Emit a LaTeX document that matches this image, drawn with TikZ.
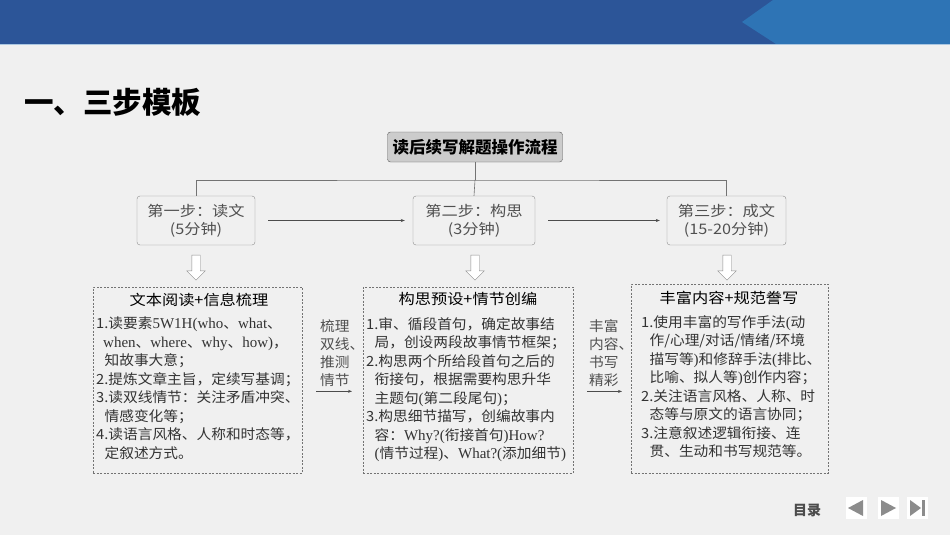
\documentclass[tikz,border=0pt]{standalone}
\usepackage{fontspec}
\setmainfont{Noto Sans CJK SC}
\newfontfamily\widefont[FakeStretch=1.12]{Noto Sans CJK SC}
\newfontfamily\bodyfont[FakeStretch=1.05]{Noto Sans CJK SC}
\newfontfamily\latinfont{Liberation Serif}
\newcommand\lat[1]{{\latinfont\fontsize{15}{18.5}\selectfont #1}}
\usetikzlibrary{shapes.arrows,arrows.meta}

\definecolor{barblue}{HTML}{2C5598}
\definecolor{tipblue}{HTML}{2E74B5}
\definecolor{marble}{HTML}{F0F0F0}
\definecolor{inkgray}{HTML}{505050}
\definecolor{navgray}{HTML}{8C8C8C}

\tikzset{
  flowbox/.style={draw=black!65, fill=black!20, rounded corners=3pt, minimum width=175pt, minimum height=30pt, font=\bfseries\fontsize{16.5}{18}\selectfont},
  stepbox/.style={draw=black!45, fill=marble, rounded corners=3pt, minimum height=49pt, align=center, text=inkgray, font=\widefont\fontsize{14.5}{18}\selectfont},
  downarrow/.style={single arrow, draw=black!45, fill=white, shape border rotate=270, minimum height=25pt, inner sep=4pt, single arrow head extend=5pt},
  dashbox/.style={draw=black!55, dash pattern=on 2pt off 1.5pt, minimum height=186pt},
  heading/.style={font=\widefont\fontsize{14.5}{18}\selectfont},
  body/.style={anchor=north west, inner sep=0pt, align=left, text=black!80, font=\bodyfont\fontsize{14}{18.5}\selectfont},
  sidelabel/.style={anchor=north west, inner sep=0pt, align=left, text=inkgray, font=\bodyfont\fontsize{14}{18}\selectfont},
  link/.style={draw=black!55, line width=0.6pt},
  flow/.style={draw=black!70, line width=0.6pt, -{Stealth[length=4pt,width=3pt]}},
  navbtn/.style={fill=white, minimum width=21pt, minimum height=22pt, inner sep=0pt}
}

\begin{document}
\begin{tikzpicture}[x=1pt,y=-1pt]
  \useasboundingbox (0,0) rectangle (950,535);
  \fill[marble] (0,0) rectangle (950,535);

  % top bar
  \fill[barblue] (0,0) rectangle (950,44);
  \fill[tipblue] (773,0) -- (950,0) -- (950,44) -- (776,44) -- (742,22) -- cycle;
  \draw[white!60!tipblue, line width=1pt] (0,44.5) -- (950,44.5);

  \node[anchor=west, inner sep=0pt, font=\bfseries\fontsize{29.5}{31}\selectfont] (title) at (24,102) {一、三步模板};

  % flow chart
  \node[flowbox] (flow) at (475,147) {读后续写解题操作流程};
  \node[stepbox, minimum width=118pt] (s1) at (196,220.5) {第一步：读文\\(5分钟)};
  \node[stepbox, minimum width=122pt] (s2) at (474,220.5) {第二步：构思\\(3分钟)};
  \node[stepbox, minimum width=119pt] (s3) at (726.5,220.5) {第三步：成文\\(15-20分钟)};

  \coordinate (j) at (475,180);
  \draw[link] (flow) -- (j);
  \draw[link] (s1.north) |- (j) -| (s3.north);
  \draw[link] (j) -- (s2.north);

  \draw[flow, shorten <=13pt, shorten >=8pt] (s1) -- (s2);
  \draw[flow, shorten <=13pt, shorten >=7pt] (s2) -- (s3);

  \node[downarrow] (d1) at (196,265.5) {};
  \node[downarrow] (d2) at (475,265.5) {};
  \node[downarrow] (d3) at (727,265.5) {};

  % content boxes
  \node[dashbox, minimum width=209pt] (c1) at (197.5,380) {};
  \node[dashbox, minimum width=210pt] (c2) at (468,380) {};
  \node[dashbox, minimum width=197pt, minimum height=189pt] (c3) at (729.5,378.5) {};

  \node[heading] (h1) at (199,300) {文本阅读+信息梳理};
  \node[heading] (h2) at (468,299) {构思预设+情节创编};
  \node[heading] (h3) at (729,298) {丰富内容+规范誊写};

  \node[body] (b1) at (96,317) {1.读要素\lat{5W1H(who}、\lat{what}、\\
    \hspace*{0.5em}\lat{when}、\lat{where}、\lat{why}、\lat{how)}，\\
    \hspace*{0.6em}知故事大意；\\
    2.提炼文章主旨，定续写基调；\\
    3.读双线情节：关注矛盾冲突、\\
    \hspace*{0.6em}情感变化等；\\
    4.读语言风格、人称和时态等，\\
    \hspace*{0.6em}定叙述方式。};
  \node[body] (b2) at (366,317) {1.审、循段首句，确定故事结\\
    \hspace*{0.6em}局，创设两段故事情节框架；\\
    2.构思两个所给段首句之后的\\
    \hspace*{0.6em}衔接句，根据需要构思升华\\
    \hspace*{0.6em}主题句\lat{(}第二段尾句\lat{)}；\\
    3.构思细节描写，创编故事内\\
    \hspace*{0.6em}容：\lat{Why?(}衔接首句\lat{)How?}\\
    \hspace*{0.6em}\lat{(}情节过程\lat{)}、\lat{What?(}添加细节\lat{)}};
  \node[body] (b3) at (641,315) {1.使用丰富的写作手法\lat{(}动\\
    \hspace*{0.6em}作/心理/对话/情绪/环境\\
    \hspace*{0.6em}描写等\lat{)}和修辞手法\lat{(}排比、\\
    \hspace*{0.6em}比喻、拟人等\lat{)}创作内容；\\
    2.关注语言风格、人称、时\\
    \hspace*{0.6em}态等与原文的语言协同；\\
    3.注意叙述逻辑衔接、连\\
    \hspace*{0.6em}贯、生动和书写规范等。};

  % side labels
  \node[sidelabel] (l1) at (320,319) {梳理\\双线、\\推测\\情节};
  \node[sidelabel] (l2) at (589,319) {丰富\\内容、\\书写\\精彩};
  \draw[flow] ([xshift=-4pt,yshift=-5pt]l1.south west) -- ([xshift=32pt,yshift=-5pt]l1.south west);
  \draw[flow] ([xshift=-2pt,yshift=-5pt]l2.south west) -- ([xshift=33pt,yshift=-5pt]l2.south west);

  % navigation
  \node[font=\bfseries\fontsize{14}{16}\selectfont, text=black!70] (toc) at (807,510) {目录};
  \node[navbtn] (prev) at (856,508) {};
  \node[navbtn] (next) at (888,508) {};
  \node[navbtn] (last) at (917,508) {};
  \fill[navgray] (prev) ++(-8,0) -- ++(15,-8) -- ++(0,16) -- cycle;
  \fill[navgray] (next) ++(8,0) -- ++(-15,-8) -- ++(0,16) -- cycle;
  \fill[navgray] (last) ++(4,0) -- ++(-11,-8) -- ++(0,16) -- cycle;
  \fill[navgray] (last) ++(5,-8) rectangle ++(3,16);
\end{tikzpicture}
\end{document}
